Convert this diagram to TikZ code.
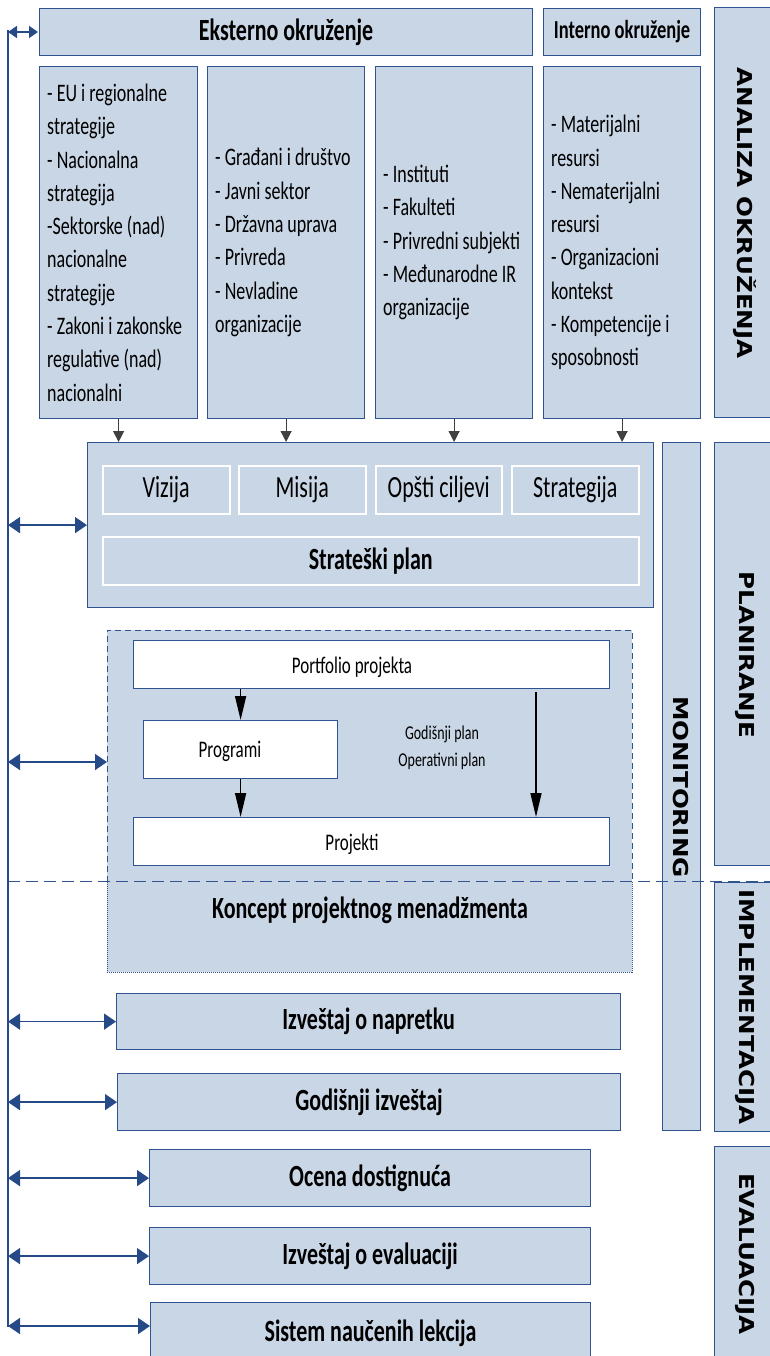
\documentclass[tikz,border=0pt]{standalone}
\usepackage{fontspec}
\setmainfont{Carlito}[FakeStretch=0.714]
\newfontfamily\lab{DejaVu Sans Bold}[FakeStretch=1.2]
\usetikzlibrary{arrows.meta}
\definecolor{boxfill}{RGB}{201,214,230}
\definecolor{boxline}{RGB}{47,84,143}
\definecolor{busline}{RGB}{38,74,135}
\definecolor{arrgray}{RGB}{64,64,64}
\begin{document}
\begin{tikzpicture}[x=1pt,y=-1pt,
  box/.style={draw=boxline, line width=1.2pt, fill=boxfill, anchor=north west, inner sep=0pt, text=black},
  wbox/.style={draw=boxline, line width=1.2pt, fill=white, anchor=north west, inner sep=0pt},
  ibox/.style={draw=white, line width=1.5pt, fill=boxfill, anchor=north west, inner sep=0pt},
  colbox/.style={box, minimum height=352pt},
  coltext/.style={anchor=west, align=left, inner sep=0pt, font=\fontsize{25.2}{33.3}\selectfont},
  small/.style={inner sep=0pt, font=\fontsize{23.8}{28}\selectfont},
  vlab/.style={rotate=-90, font=\lab\fontsize{20.5}{24}\selectfont, inner sep=0pt},
  title/.style={font=\bfseries\fontsize{30.8}{34}\selectfont},
  reg/.style={font=\fontsize{30.8}{34}\selectfont},
  biarrow/.style={draw=busline, line width=1.6pt, {Triangle[length=12pt,width=16pt]}-{Triangle[length=12pt,width=16pt]}},
  smallbi/.style={draw=busline, line width=1.6pt, {Triangle[length=9pt,width=12pt]}-{Triangle[length=9pt,width=12pt]}},
  garrow/.style={draw=arrgray, line width=1.2pt, -{Triangle[length=11pt,width=11pt]}},
  karrow/.style={draw=black, line width=1.6pt, -{Triangle[length=24pt,width=11pt]}},
]
\clip (0,0) rectangle (770,1356);

% top row
\node[box, minimum width=493pt, minimum height=47pt, title] (ext) at (39,8) {Eksterno okruženje};
\node[box, minimum width=157pt, minimum height=47pt, font=\bfseries\fontsize{25.9}{30}\selectfont] (int) at (543,8) {Interno okruženje};

% phase labels
\node[box, minimum width=62pt, minimum height=410pt] (analiza) at (714,7) {};
\node[vlab] (analizaT) at (745,213) {ANALIZA OKRUŽENJA};
\node[box, minimum width=62pt, minimum height=423pt] (plan) at (714,442) {};
\node[vlab] (planT) at (745,655) {PLANIRANJE};
\node[box, minimum width=62pt, minimum height=249pt] (impl) at (714,882) {};
\node[vlab] (implT) at (745,1007) {IMPLEMENTACIJA};
\node[box, minimum width=62pt, minimum height=230pt] (eval) at (714,1146) {};
\node[vlab] (evalT) at (745,1254) {EVALUACIJA};
\node[box, minimum width=38pt, minimum height=688pt] (mon) at (662,442) {};
\node[vlab] (monT) at (681,787) {MONITORING};

% columns
\node[colbox, minimum width=158pt] (c1) at (39,66) {};
\node[colbox, minimum width=157pt] (c2) at (207,66) {};
\node[colbox, minimum width=157pt] (c3) at (375,66) {};
\node[colbox, minimum width=157pt] (c4) at (543,66) {};
\node[coltext] (t1) at ([xshift=8pt]c1.west) {- EU i regionalne\\strategije\\- Nacionalna\\strategija\\-Sektorske (nad)\\nacionalne\\strategije\\- Zakoni i zakonske\\regulative (nad)\\nacionalni};
\node[coltext] (t2) at ([xshift=8pt]c2.west) {- Građani i društvo\\- Javni sektor\\- Državna uprava\\- Privreda\\- Nevladine\\organizacije};
\node[coltext] (t3) at ([xshift=8pt]c3.west) {- Instituti\\- Fakulteti\\- Privredni subjekti\\- Međunarodne IR\\organizacije};
\node[coltext] (t4) at ([xshift=8pt]c4.west) {- Materijalni\\resursi\\- Nematerijalni\\resursi\\- Organizacioni\\kontekst\\- Kompetencije i\\sposobnosti};

% strategic plan
\node[box, minimum width=566pt, minimum height=165pt] (strat) at (87,442) {};
\node[ibox, minimum width=127pt, minimum height=48pt, reg] (viz) at (102,465) {Vizija};
\node[ibox, minimum width=127pt, minimum height=48pt, reg] (mis) at (238,465) {Misija};
\node[ibox, minimum width=126pt, minimum height=48pt, reg] (cilj) at (375,465) {Opšti ciljevi};
\node[ibox, minimum width=127pt, minimum height=48pt, reg] (strg) at (511,465) {Strategija};
\node[ibox, minimum width=536pt, minimum height=48pt, title] (splan) at (102,536) {Strateški plan};

\foreach \c in {c1,c2,c3,c4}
  \draw[garrow] (\c.south) -- (\c.south |- strat.north);

% project management
\node[anchor=north west, fill=boxfill, minimum width=525pt, minimum height=342pt, inner sep=0pt] (pm) at (107,630) {};
\draw[boxline, line width=1pt, dash pattern=on 6pt off 4pt] (107,882) -- (107,630) -- (632,630) -- (632,882);
\draw[boxline, line width=1pt, densely dotted] (107,882) -- (107,972) -- (632,972) -- (632,882);
\node[wbox, minimum width=476pt, minimum height=48pt] (port) at (133,640) {};
\node[wbox, minimum width=194pt, minimum height=58pt] (prog) at (143,720) {};
\node[wbox, minimum width=476pt, minimum height=48pt] (proj) at (133,817) {};
\node[small] (portT) at (352,667) {Portfolio projekta};
\node[small] (progT) at (230,751) {Programi};
\node[small] (projT) at (352,844) {Projekti};
\node[align=center, font=\fontsize{19.6}{27}\selectfont] (gp) at (442,748) {Godišnji plan\\Operativni plan};
\node[title] (koncept) at (370,910) {Koncept projektnog menadžmenta};
\draw[karrow] (prog.north |- port.south) -- (prog.north);
\draw[karrow] (prog.south) -- (prog.south |- proj.north);
\coordinate (c3start) at (536,692);
\draw[karrow] (c3start) -- (c3start |- proj.north);

\draw[boxline, line width=1pt, dash pattern=on 12pt off 6pt] (8,881) -- (770,881);

% reports
\node[box, minimum width=504pt, minimum height=56pt, title] (nap) at (116,993) {Izveštaj o napretku};
\node[box, minimum width=503pt, minimum height=57pt, title] (god) at (117,1073) {Godišnji izveštaj};
\node[box, minimum width=441pt, minimum height=57pt, title] (ocena) at (149,1149) {Ocena dostignuća};
\node[box, minimum width=441pt, minimum height=57pt, title] (ieval) at (149,1227) {Izveštaj o evaluaciji};
\node[box, minimum width=440pt, minimum height=62pt, title] (sist) at (150,1302) {Sistem naučenih lekcija};

% bus
\coordinate (bustop) at (8,30);
\coordinate (busbot) at (8,1327);
\draw[busline, line width=2pt] (bustop) -- (busbot);
\coordinate (extin) at (38,32);
\draw[smallbi] (bustop |- extin) -- (extin);
\draw[biarrow] (bustop |- strat.west) -- (strat.west);
\coordinate (pmin) at (107,762);
\draw[biarrow] (bustop |- pmin) -- (pmin);
\draw[biarrow] (bustop |- nap.west) -- (nap.west);
\draw[biarrow] (bustop |- god.west) -- (god.west);
\draw[biarrow] (bustop |- ocena.west) -- (ocena.west);
\draw[biarrow] (bustop |- ieval.west) -- (ieval.west);
\coordinate (sistin) at (150,1326);
\draw[biarrow] (bustop |- sistin) -- (sistin);
\end{tikzpicture}
\end{document}
